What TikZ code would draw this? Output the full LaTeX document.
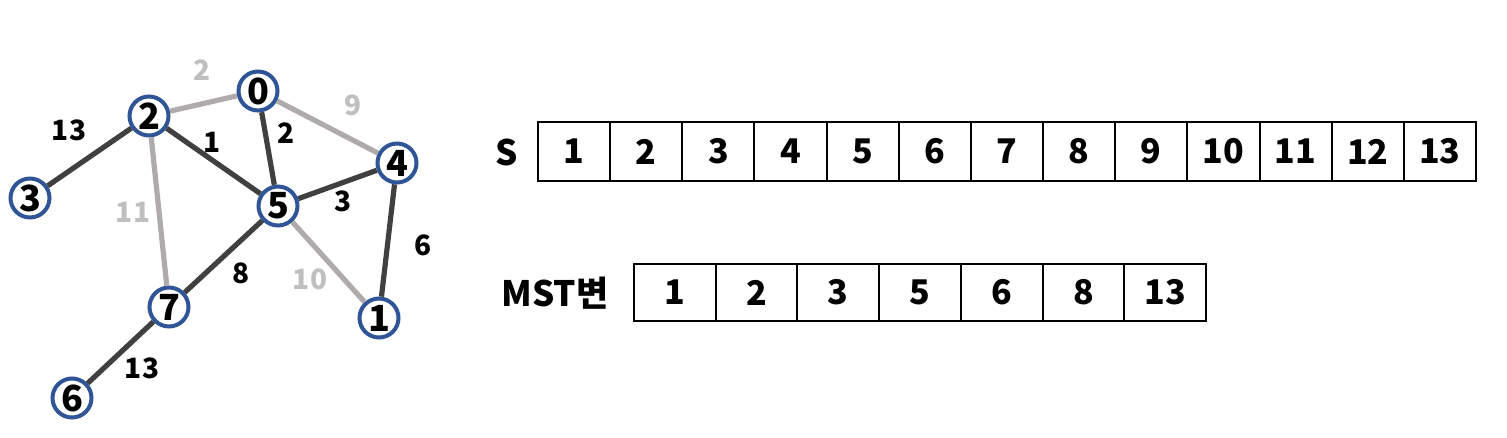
\documentclass[tikz,border=0pt]{standalone}
\usepackage{fontspec}
\setmainfont{Noto Sans CJK KR}
\definecolor{vblue}{HTML}{2F5597}
\definecolor{edark}{HTML}{404040}
\definecolor{egrey}{HTML}{AFABAB}
\definecolor{lgrey}{HTML}{BFBFBF}
\tikzset{
    vert/.style={circle, draw=vblue, line width=2pt, fill=white, minimum size=19.5pt, inner sep=0pt, font=\fontsize{18}{18}\selectfont\bfseries},
    mst/.style={draw=edark, line width=2.6pt},
    nomst/.style={draw=egrey, line width=2.6pt},
    wt/.style={font=\fontsize{14}{14}\selectfont\bfseries},
    wtgrey/.style={wt, text=lgrey},
    lbl/.style={font=\fontsize{17.5}{17.5}\selectfont\bfseries},
    cell/.style={draw, line width=1pt, minimum width=36.08pt, minimum height=29.5pt, inner sep=0pt, font=\fontsize{17}{17}\selectfont\bfseries},
    mcell/.style={cell, minimum width=40.86pt, minimum height=28.5pt}
}
\begin{document}
\begin{tikzpicture}[x=0.5pt, y=-0.5pt]
        \useasboundingbox (0,0) rectangle (1507,438);
        \node [vert] (n0) at (258,91) {0};
        \node [vert] (n1) at (379,318) {1};
        \node [vert] (n2) at (149,116) {2};
        \node [vert] (n3) at (30,198) {3};
        \node [vert] (n4) at (397,163) {4};
        \node [vert] (n5) at (278,206) {5};
        \node [vert] (n6) at (72,398) {6};
        \node [vert] (n7) at (169,307) {7};
        \draw [nomst] (n2) -- (n0);
        \draw [nomst] (n0) -- (n4);
        \draw [nomst] (n2) -- (n7);
        \draw [nomst] (n5) -- (n1);
        \draw [mst] (n2) -- (n3);
        \draw [mst] (n2) -- (n5);
        \draw [mst] (n0) -- (n5);
        \draw [mst] (n5) -- (n4);
        \draw [mst] (n4) -- (n1);
        \draw [mst] (n5) -- (n7);
        \draw [mst] (n7) -- (n6);
        \node [wtgrey] (w20) at (202,70) {2};
        \node [wtgrey] (w04) at (353,105) {9};
        \node [wtgrey] (w27) at (133,212) {11};
        \node [wtgrey] (w51) at (310,279) {10};
        \node [wt] (w23) at (69,130) {13};
        \node [wt] (w25) at (212,142) {1};
        \node [wt] (w05) at (286,133) {2};
        \node [wt] (w54) at (343,201) {3};
        \node [wt] (w41) at (423,245) {6};
        \node [wt] (w57) at (241,273) {8};
        \node [wt] (w76) at (142,368) {13};
        \node [lbl] (slabel) at (507,152) {S};
        \foreach \v [count=\i] in {1,...,13}
            \node [cell] (s\i) at ({538+72.15*(\i-0.5)},151.5) {\v};
        \node [lbl] (mlabel) at (555,293) {MST변};
        \foreach \v [count=\i] in {1,2,3,5,6,8,13}
            \node [mcell] (m\i) at ({634+81.7*(\i-0.5)},292.5) {\v};
    \end{tikzpicture}
\end{document}
